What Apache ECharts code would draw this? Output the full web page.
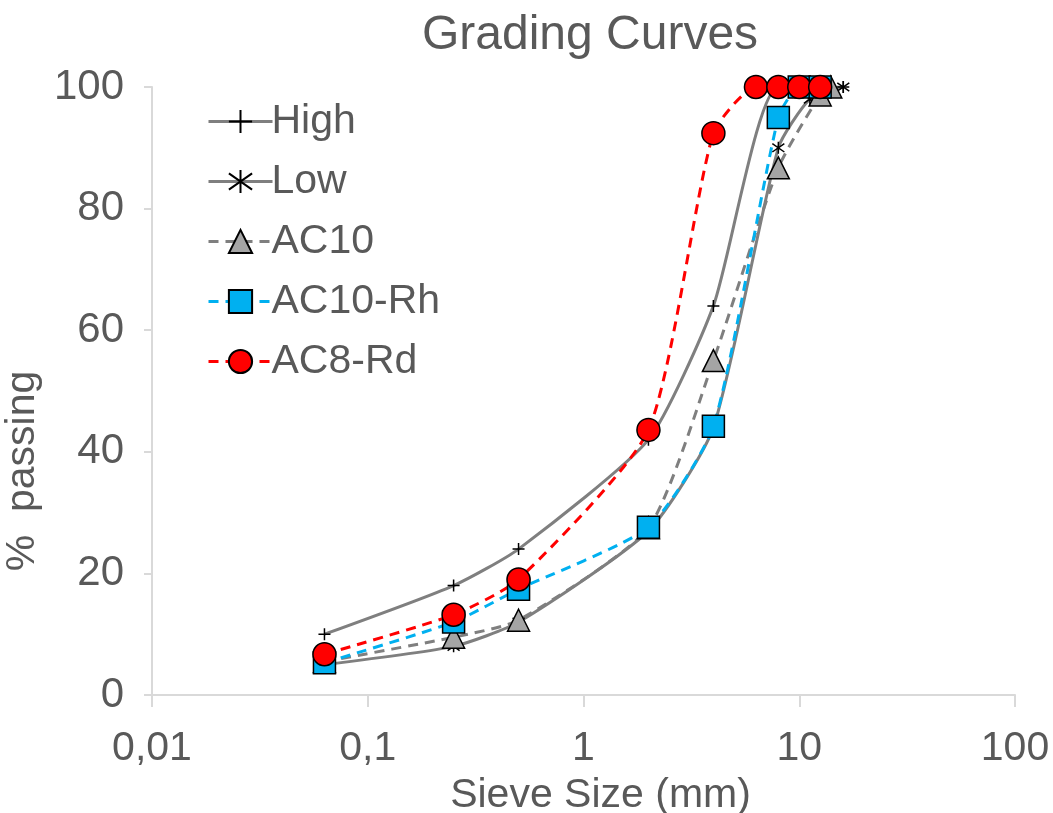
<!DOCTYPE html>
<html>
<head>
<meta charset="utf-8">
<script src="https://cdn.jsdelivr.net/npm/echarts@6/dist/echarts.min.js"></script>
<style>
  html, body { margin: 0; padding: 0; background: #fff; }
  #main { width: 1053px; height: 813px; }
</style>
</head>
<body>
<div id="main"></div>
<script>
// data: [sieve size (mm), % passing]
const high   = [[0.063, 10], [0.25, 18], [0.5, 24], [2, 42], [4, 64], [8, 100], [16, 100]]
const low    = [[0.063, 5], [0.25, 8], [0.5, 12], [2, 27], [4, 44], [8, 90], [11.2, 98], [16, 100]]
const ac10   = [[0.063, 5.5], [0.25, 9.5], [0.5, 12.3], [2, 27.5], [4, 55], [8, 86.7], [12.5, 98.7], [14, 100]]
const ac10Rh = [[0.063, 5.3], [0.25, 12], [0.5, 17.4], [2, 27.6], [4, 44.2], [8, 95], [10, 100], [12.5, 100]]
const ac8Rd  = [[0.063, 6.7], [0.25, 13.2], [0.5, 19], [2, 43.6], [4, 92.4], [6.3, 100], [8, 100], [10, 100], [12.5, 100]]
const yTicks = [0, 20, 40, 60, 80, 100]

const txt = "#595959"
const axisGray = "#d9d9d9"
const plus = "path://M5,0L5,10M0,5L10,5"
const star = "path://M5,0L5,10M1,1.5L9,8.5M9,1.5L1,8.5"

const lineSeries = (name, data, color, type, symbol, size, fill) => ({
  name,
  type: "line",
  data,
  smooth: 0.2,
  symbol,
  symbolSize: size,
  lineStyle: { color, width: 3, type },
  itemStyle: { color: fill, borderColor: "#000", borderWidth: 1.5 },
  emphasis: { disabled: true }
})

const myChart = echarts.init(document.getElementById("main"))
myChart.setOption({
  animation: false,
  textStyle: { fontFamily: "Liberation Sans, Arial, sans-serif" },
  title: {
    text: "Grading Curves",
    left: 585, top: 7, textAlign: "center",
    textStyle: { fontSize: 48, fontWeight: "normal", color: txt }
  },
  legend: {
    orient: "vertical",
    left: 202, top: 96,
    itemWidth: 64, itemHeight: 29, itemGap: 19,
    lineStyle: { width: 3 },
    textStyle: { fontSize: 41, color: txt, padding: [0, 0, 0, -6] },
    data: ["High", "Low", "AC10", "AC10-Rh", "AC8-Rd"]
  },
  grid: { left: 152, right: 38, top: 87, bottom: 118, outerBoundsMode: "none", containLabel: false },
  xAxis: {
    type: "log", logBase: 10, min: 0.01, max: 100,
    name: "Sieve Size (mm)", nameLocation: "middle", nameGap: 80,
    nameTextStyle: { fontSize: 41, color: txt, padding: [0, 0, 0, 34] },
    axisLine: { show: true, lineStyle: { color: axisGray, width: 2 } },
    axisTick: { show: true, length: 12, lineStyle: { color: axisGray, width: 2 } },
    minorTick: { show: false },
    splitLine: { show: false },
    axisLabel: { fontSize: 41, color: txt, margin: 33,
      formatter: v => String(v).replace(".", ",") }
  },
  yAxis: {
    type: "value", min: 0, max: 100, interval: 20,
    name: "%  passing", nameLocation: "middle", nameGap: 92,
    nameTextStyle: { fontSize: 41, color: txt, padding: [0, 160, 0, 0] },
    axisLine: { show: true, lineStyle: { color: axisGray, width: 2 } },
    axisTick: { show: true, length: 8, lineStyle: { color: axisGray, width: 2 } },
    splitLine: { show: false },
    axisLabel: { fontSize: 42, color: txt, margin: 28,
      formatter: v => yTicks.includes(v) ? String(v) : "" }
  },
  series: [
    lineSeries("High", high, "#7f7f7f", "solid", plus, 12, "#000"),
    lineSeries("Low", low, "#7f7f7f", "solid", star, 12, "#000"),
    lineSeries("AC10", ac10, "#7f7f7f", [10, 7], "triangle", 22, "#a5a5a5"),
    lineSeries("AC10-Rh", ac10Rh, "#00b0f0", [10, 7], "rect", 22, "#00b0f0"),
    lineSeries("AC8-Rd", ac8Rd, "#ff0000", [10, 7], "circle", 23, "#ff0000")
  ]
})
window.onresize = () => myChart.resize()
</script>
</body>
</html>
